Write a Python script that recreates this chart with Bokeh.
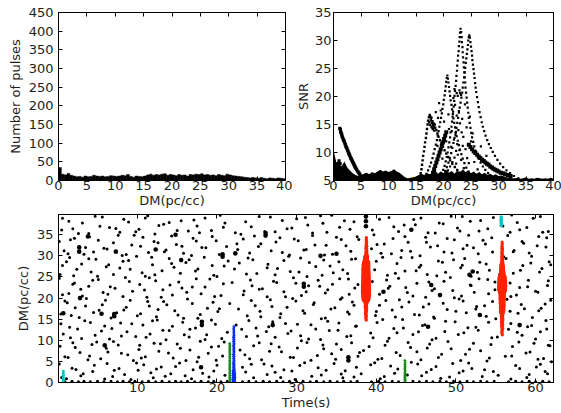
from bokeh.plotting import figure
from bokeh.layouts import column, row
from bokeh.models import FixedTicker, LinearAxis, Range1d
from bokeh.embed import file_html
from bokeh.resources import INLINE
import numpy as np

# ---------------- data ----------------
# top-left histogram: number of pulses per 0.5 pc/cc DM bin (0..40)
hist_counts = [35, 17, 15, 19, 14, 12, 10, 11, 9, 12, 10, 11, 14, 12, 11, 12, 10, 11, 13, 12,
               11, 12, 14, 13, 16, 11, 9, 12, 11, 10, 12, 15, 17, 14, 16, 15, 17, 18, 14, 16,
               15, 13, 16, 14, 15, 12, 16, 15, 17, 16, 18, 15, 16, 14, 15, 13, 16, 14, 13, 17,
               15, 13, 12, 11, 10, 9, 8, 7, 8, 7, 6, 8, 6, 5, 7, 6, 5, 7, 6, 5]
hist_bin_width = 0.5

# top-right: dense noise floor (upper envelope of SNR) sampled every 0.5 pc/cc
floor_snr = [10.4, 8.3, 7.8, 7.6, 8.4, 7.3, 6.8, 6.3, 6.0, 5.8, 5.9, 6.2, 6.4, 6.1, 6.5, 6.3, 6.6,
             6.9, 6.6, 6.8, 6.5, 6.7, 7.0, 6.6, 6.4, 6.0, 5.6, 5.4, 5.5, 5.6, 5.7, 6.0, 6.2, 6.0,
             6.3, 6.1, 6.4, 6.8, 6.2, 6.6, 6.3, 6.9, 6.4, 6.7, 6.2, 6.8, 6.4, 7.0, 6.5, 6.8, 6.3,
             6.6, 6.2, 6.5, 6.1, 6.4, 6.0, 6.2, 5.9, 6.1, 5.8, 5.9, 5.7, 5.6, 5.5, 5.4, 5.4, 5.5,
             5.3, 5.4, 5.6, 5.3, 5.4, 5.3, 5.5, 5.4, 5.3, 5.4, 5.3, 5.5, 5.3]
floor_step = 0.5

# top-right: single-pulse (DM, SNR) tracks
snr_left = [(1.15, 14.3), (1.25, 14.1), (1.3, 13.7), (1.4, 13.5), (1.5, 13.2), (1.55, 12.9), (1.65, 12.7),
            (1.75, 12.4), (1.85, 12.2), (1.95, 12.0), (2.05, 11.7), (2.15, 11.4), (2.25, 11.1), (2.35, 10.9),
            (2.45, 10.7), (2.55, 10.4), (2.65, 10.2), (2.75, 9.9), (2.85, 9.7), (2.95, 9.5), (3.05, 9.2),
            (3.15, 9.0), (3.25, 8.8), (3.35, 8.6), (3.45, 8.4), (3.55, 8.2), (3.65, 8.0), (3.75, 7.8),
            (3.85, 7.6), (3.95, 7.4), (4.05, 7.2), (4.2, 7.0), (4.35, 6.7), (4.5, 6.5), (4.65, 6.3),
            (4.8, 6.1), (5.0, 5.8), (0.6, 7.5), (0.8, 8.0), (1.0, 8.5), (1.2, 8.0)]
snr_curve_a = [(23.1, 32.1), (23.0, 31.4), (22.95, 30.6), (22.9, 29.8), (22.8, 29.0), (22.75, 28.1), (22.65, 27.3),
               (22.6, 26.4), (22.5, 25.5), (22.45, 24.6), (22.35, 23.7), (22.3, 22.8), (22.2, 21.9), (22.1, 21.0),
               (22.0, 20.1), (21.95, 19.2), (21.85, 18.2), (21.75, 17.3), (21.65, 16.4), (21.55, 15.5), (21.45, 14.6),
               (21.3, 13.6), (21.2, 12.7), (21.05, 11.8), (20.9, 10.9), (20.75, 10.0), (20.6, 9.2), (20.4, 8.4),
               (20.2, 7.6), (19.95, 6.9), (19.7, 6.2), (19.4, 5.6),
               (23.2, 31.5), (23.3, 30.6), (23.35, 29.7), (23.45, 28.8), (23.5, 27.9), (23.55, 27.0), (23.65, 26.1),
               (23.7, 25.2), (23.8, 24.3), (23.85, 23.4), (23.95, 22.5), (24.0, 21.6), (24.1, 20.7), (24.2, 19.8),
               (24.3, 18.9), (24.4, 18.0), (24.5, 17.1), (24.6, 16.2), (24.75, 15.3), (24.9, 14.4), (25.05, 13.5),
               (25.2, 12.7), (25.4, 11.9), (25.6, 11.1), (25.85, 10.3), (26.1, 9.6), (26.4, 8.9), (26.75, 8.2),
               (27.15, 7.5), (27.6, 6.9), (28.1, 6.3), (28.7, 5.8)]
snr_curve_b = [(24.7, 30.9), (24.6, 30.6), (24.5, 30.0), (24.45, 29.2), (24.35, 28.4), (24.25, 27.6), (24.15, 26.8),
               (24.05, 26.0), (23.95, 25.1), (23.85, 24.3), (23.75, 23.4), (23.6, 22.5), (23.5, 21.6), (23.4, 20.7),
               (23.25, 19.8), (23.1, 18.9), (22.95, 18.0), (22.8, 17.1), (22.65, 16.2), (22.5, 15.3), (22.35, 14.4),
               (22.2, 13.5), (22.0, 12.6), (21.8, 11.7), (21.6, 10.8), (21.4, 9.9), (21.15, 9.0), (20.9, 8.2),
               (20.6, 7.4), (20.3, 6.7), (19.9, 6.0), (19.5, 5.4),
               (24.8, 30.5), (24.9, 29.7), (25.0, 28.9), (25.1, 28.1), (25.2, 27.3), (25.25, 26.5), (25.35, 25.7),
               (25.45, 24.9), (25.55, 24.1), (25.65, 23.3), (25.75, 22.4), (25.85, 21.6), (25.95, 20.8), (26.1, 19.9),
               (26.25, 19.0), (26.4, 18.1), (26.55, 17.2), (26.75, 16.3), (26.95, 15.4), (27.15, 14.6), (27.4, 13.8),
               (27.65, 13.0), (27.95, 12.2), (28.25, 11.5), (28.6, 10.8), (28.95, 10.1), (29.35, 9.4), (29.8, 8.7),
               (30.3, 8.0), (30.85, 7.4), (31.45, 6.8), (32.1, 6.3), (32.8, 5.8), (33.6, 5.4)]
snr_curve_c = [(20.7, 23.75), (20.6, 23.3), (20.5, 22.6), (20.4, 21.8), (20.3, 21.0), (20.2, 20.2), (20.05, 19.4),
               (19.95, 18.6), (19.8, 17.8), (19.7, 17.0), (19.55, 16.2), (19.4, 15.4), (19.25, 14.6), (19.1, 13.8),
               (18.95, 13.0), (18.8, 12.2), (18.6, 11.4), (18.4, 10.6), (18.2, 9.8), (18.0, 9.0), (17.75, 8.2),
               (17.5, 7.5), (17.2, 6.8), (16.9, 6.2), (16.5, 5.6),
               (20.8, 23.2), (20.9, 22.5), (21.0, 21.7), (21.1, 20.9), (21.2, 20.1), (21.3, 19.3), (21.45, 18.5),
               (21.55, 17.7), (21.7, 16.9), (21.8, 16.1), (21.95, 15.3), (22.1, 14.5), (22.25, 13.7), (22.4, 12.9),
               (22.6, 12.1), (22.8, 11.3), (23.0, 10.5), (23.25, 9.7), (23.5, 8.9), (23.8, 8.1), (24.15, 7.3),
               (24.55, 6.6), (25.0, 6.0), (25.5, 5.5)]
snr_curve_d = [(15.7, 5.6), (15.85, 6.3), (16.0, 7.0), (16.1, 7.8), (16.2, 8.6), (16.3, 9.4), (16.45, 10.2),
               (16.55, 11.0), (16.65, 11.8), (16.8, 12.6), (16.9, 13.4), (17.0, 14.2), (17.1, 15.0), (17.2, 15.7),
               (17.35, 16.3), (17.5, 16.7), (17.6, 16.4), (17.7, 15.8), (17.8, 16.2), (17.9, 15.3), (18.0, 15.6),
               (18.1, 14.9), (18.2, 15.2), (18.3, 14.6), (18.4, 15.0), (18.5, 14.4), (17.4, 15.4), (17.6, 14.9),
               (17.85, 14.5), (18.05, 14.2), (18.3, 13.9), (18.7, 14.0), (18.9, 13.4), (19.1, 12.8), (19.35, 12.2),
               (19.6, 11.6), (19.9, 11.0), (20.2, 10.4), (20.5, 9.8), (20.85, 9.2), (21.2, 8.6), (21.6, 8.0),
               (22.05, 7.4), (22.5, 6.9), (23.0, 6.4), (23.6, 5.9), (24.3, 5.5)]
snr_thick = [(17.9, 5.8), (18.1, 6.4), (18.3, 7.0), (18.5, 7.6), (18.7, 8.2), (18.9, 8.8), (19.1, 9.4),
             (19.3, 10.0), (19.5, 10.6), (19.7, 11.2), (19.9, 11.8), (20.1, 12.4), (20.3, 13.0), (20.5, 13.6),
             (24.6, 11.4), (24.9, 11.0), (25.2, 10.6), (25.5, 10.2), (25.8, 9.9), (26.1, 9.6), (26.4, 9.3),
             (26.7, 9.0), (27.0, 8.7), (27.3, 8.5), (27.6, 8.2), (27.9, 8.0), (28.2, 7.8), (28.5, 7.5),
             (28.8, 7.3), (29.1, 7.1), (29.4, 6.9), (29.7, 6.8), (30.0, 6.6), (30.4, 6.4), (30.8, 6.3),
             (31.2, 6.1), (31.7, 6.0), (32.2, 5.8)]
snr_scatter = [(21.2, 7.5), (21.6, 8.3), (22.0, 9.1), (22.3, 8.0), (22.6, 9.6), (22.9, 10.4), (23.2, 8.7),
               (23.5, 11.2), (21.9, 12.3), (22.2, 13.1), (22.7, 14.0), (23.0, 15.2), (23.3, 13.6), (21.5, 13.8),
               (22.4, 16.6), (22.8, 17.4), (23.4, 16.0), (22.1, 18.5), (22.6, 20.1), (23.0, 20.6), (21.8, 19.7),
               (24.0, 10.6), (24.3, 9.0), (24.6, 8.1), (23.7, 7.2), (20.8, 6.8), (21.4, 11.0), (20.5, 12.0),
               (20.1, 15.5), (19.5, 17.5), (19.2, 18.8), (20.9, 16.8), (24.2, 14.5), (25.0, 12.0), (25.6, 8.3),
               (26.2, 7.0), (23.9, 18.6), (21.0, 14.2), (19.8, 8.9), (18.9, 11.2), (24.8, 16.4), (22.5, 11.5),
               (23.6, 12.8), (22.0, 21.3), (22.3, 10.3), (25.3, 13.4), (26.8, 11.1), (27.8, 9.4), (19.0, 16.2),
               (18.6, 17.2), (22.4, 20.6), (22.9, 21.1), (23.2, 20.3)]

# bottom: background single pulses (time s, DM pc/cc)
bg_points = [
    (0.5, 1.2), (3.2, 2.1), (5.9, 0.8), (8.4, 1.9), (11.7, 2.3), (13.5, 1.5), (16.8, 0.9), (18.2, 2.2), (21.0, 1.7), (24.6, 1.1), (27.3, 2.4), (29.8, 0.7), (33.1, 1.8), (35.6, 2.0), (37.2, 1.3), (40.5, 0.9), (42.3, 2.2), (45.7, 1.6), (48.1, 1.0), (50.4, 2.3), (53.3, 1.4), (56.9, 0.8), (59.2, 1.9), (61.5, 2.1),
    (1.8, 3.4), (4.6, 4.1), (7.1, 2.9), (9.9, 4.6), (12.4, 3.2), (14.8, 3.8), (17.5, 4.9), (19.6, 2.7), (23.2, 3.6), (25.9, 4.4), (28.4, 3.0), (31.0, 4.7), (32.7, 3.5), (36.1, 2.8), (39.3, 4.2), (41.8, 3.9), (44.4, 4.8), (46.9, 3.1), (49.6, 4.5), (52.0, 3.3), (54.7, 2.6), (57.5, 4.0), (60.1, 3.7), (62.0, 4.9),
    (0.9, 6.1), (3.8, 5.4), (6.3, 7.2), (8.8, 6.6), (10.5, 5.8), (13.9, 7.0), (16.1, 5.2), (18.9, 6.9), (20.7, 6.3), (24.1, 5.6), (26.6, 7.4), (29.2, 6.0), (31.8, 5.3), (34.4, 6.8), (37.9, 7.1), (40.2, 5.5), (43.0, 6.4), (45.1, 7.3), (47.8, 5.9), (51.2, 6.7), (53.9, 5.1), (56.2, 6.2), (58.8, 7.0), (61.0, 5.7),
    (2.2, 8.3), (4.9, 9.6), (7.6, 8.9), (10.2, 7.8), (12.9, 9.2), (15.4, 8.1), (17.9, 9.8), (20.2, 8.6), (22.9, 7.7), (25.3, 9.4), (27.8, 8.4), (30.6, 9.9), (33.4, 8.0), (35.0, 9.1), (38.4, 7.6), (41.1, 8.8), (44.0, 9.5), (46.4, 8.2), (49.0, 9.7), (51.7, 7.9), (54.4, 9.0), (57.1, 8.5), (59.8, 9.3), (61.8, 8.7),
    (0.7, 11.5), (3.0, 10.4), (5.5, 12.2), (8.0, 11.0), (11.1, 10.7), (13.2, 12.4), (15.9, 11.3), (18.5, 10.2), (21.3, 11.9), (23.7, 10.9), (26.2, 12.1), (28.9, 11.6), (31.5, 10.3), (34.1, 12.3), (36.8, 11.1), (39.6, 10.6), (42.6, 11.8), (45.3, 12.0), (47.5, 10.5), (50.3, 11.4), (52.8, 12.4), (55.2, 10.8), (58.3, 11.2), (60.6, 12.0),
    (1.5, 13.1), (4.1, 14.2), (6.8, 12.8), (9.3, 13.9), (11.9, 14.6), (14.4, 13.3), (16.6, 12.6), (19.3, 14.8), (22.4, 13.6), (24.9, 12.9), (27.0, 14.4), (30.1, 13.8), (32.4, 12.7), (35.3, 14.1), (37.5, 13.4), (40.8, 14.9), (43.4, 12.9), (46.1, 13.7), (48.7, 14.5), (51.5, 13.0), (54.1, 14.3), (56.6, 12.6), (59.5, 13.5), (61.3, 14.7),
    (0.4, 16.2), (2.7, 15.4), (5.2, 17.1), (7.4, 16.5), (10.0, 15.8), (12.6, 17.3), (15.1, 16.0), (17.6, 15.2), (20.1, 16.8), (22.7, 17.4), (25.5, 15.6), (28.0, 16.3), (30.8, 17.0), (33.6, 15.3), (36.4, 16.7), (39.9, 15.9), (42.0, 17.2), (44.8, 16.1), (47.2, 15.5), (50.0, 16.9), (52.5, 17.4), (55.0, 15.1), (57.8, 16.4), (60.4, 17.0),
    (1.2, 18.9), (3.5, 18.1), (6.0, 19.5), (8.6, 17.8), (11.3, 19.2), (13.7, 18.4), (16.3, 19.8), (18.8, 17.6), (21.6, 18.7), (24.3, 19.4), (26.9, 18.0), (29.5, 19.9), (32.1, 18.5), (34.8, 17.7), (37.0, 19.1), (40.4, 18.3), (42.9, 19.6), (45.9, 17.9), (48.4, 18.8), (50.9, 19.3), (53.6, 18.2), (56.4, 19.7), (58.6, 17.5), (61.2, 18.6),
    (0.6, 20.8), (2.9, 22.1), (5.7, 21.3), (8.2, 20.4), (10.9, 21.9), (13.0, 20.2), (15.6, 22.4), (18.0, 21.0), (20.5, 20.6), (23.4, 21.7), (25.7, 22.2), (28.6, 20.3), (31.2, 21.5), (33.9, 22.0), (36.6, 20.9), (39.0, 21.2), (41.5, 22.3), (44.6, 20.5), (47.0, 21.8), (49.8, 20.1), (52.3, 21.4), (54.9, 22.0), (57.6, 20.7), (60.0, 21.6),
    (1.9, 23.3), (4.4, 24.2), (6.6, 22.7), (9.0, 23.9), (11.5, 24.8), (14.1, 23.1), (16.9, 22.6), (19.1, 24.5), (21.9, 23.7), (24.4, 22.9), (27.1, 24.0), (29.9, 23.5), (32.9, 22.8), (35.4, 24.6), (37.7, 23.2), (41.3, 24.3), (43.7, 22.5), (46.6, 23.8), (49.3, 24.9), (51.9, 23.0), (54.0, 24.4), (56.8, 23.6), (59.0, 22.7), (61.6, 24.1),
    (0.3, 25.6), (2.4, 26.8), (5.0, 25.2), (7.8, 27.1), (10.6, 26.0), (12.2, 25.5), (14.6, 27.3), (17.3, 26.4), (20.0, 25.1), (22.2, 26.9), (25.0, 25.8), (27.6, 27.0), (30.3, 26.2), (33.2, 25.4), (35.8, 26.7), (38.9, 27.4), (42.4, 25.9), (45.0, 26.5), (47.6, 25.3), (50.6, 27.2), (52.7, 26.1), (55.5, 25.7), (58.1, 26.6), (60.8, 27.0),
    (1.1, 28.6), (3.9, 29.3), (6.4, 27.9), (8.9, 28.9), (11.8, 29.7), (14.3, 28.2), (16.5, 29.1), (19.4, 27.7), (21.4, 28.8), (23.9, 29.5), (26.4, 28.0), (29.0, 29.9), (31.6, 28.4), (34.2, 27.6), (36.9, 29.2), (40.0, 28.7), (43.1, 29.6), (45.6, 27.8), (48.3, 28.5), (51.1, 29.4), (53.8, 28.1), (56.0, 29.8), (59.4, 28.3), (61.9, 27.9),
    (0.8, 31.2), (3.3, 30.4), (5.8, 31.8), (8.1, 30.1), (10.4, 32.3), (13.4, 31.0), (15.8, 30.6), (18.1, 32.0), (20.3, 30.3), (22.6, 31.5), (25.2, 32.2), (28.2, 30.8), (30.9, 31.4), (33.5, 30.2), (36.2, 32.4), (39.4, 31.7), (41.9, 30.5), (44.3, 31.1), (46.8, 32.1), (49.5, 30.7), (52.2, 31.9), (54.6, 30.9), (57.3, 31.3), (60.2, 32.4),
    (1.6, 33.8), (4.0, 34.5), (7.0, 33.1), (9.6, 34.9), (12.1, 33.4), (14.9, 32.7), (17.0, 34.2), (19.9, 33.6), (22.5, 32.9), (24.7, 34.7), (27.4, 33.3), (29.7, 34.0), (32.3, 32.6), (35.0, 34.4), (37.8, 33.9), (41.0, 32.8), (43.6, 34.6), (46.3, 33.2), (48.9, 34.1), (51.4, 32.5), (53.4, 33.7), (56.5, 34.8), (58.5, 33.0), (61.4, 34.3),
    (0.5, 36.1), (2.6, 35.3), (5.3, 37.0), (7.3, 36.5), (9.8, 35.7), (12.7, 37.2), (15.0, 36.0), (17.8, 35.5), (20.8, 36.8), (23.0, 35.1), (26.0, 35.8), (28.8, 36.4), (31.4, 37.3), (33.8, 35.6), (36.7, 36.3), (39.7, 35.0), (42.2, 36.9), (44.9, 37.4), (47.4, 35.4), (50.2, 36.6), (52.9, 35.9), (55.9, 37.1), (58.0, 36.2), (60.9, 35.6),
    (1.4, 38.2), (4.7, 39.4), (8.3, 38.7), (11.0, 39.0), (14.0, 37.9), (17.1, 38.5), (20.4, 39.6), (23.6, 38.1), (26.7, 39.2), (30.0, 38.8), (33.0, 39.5), (36.0, 38.3), (41.6, 39.1), (44.7, 38.6), (47.9, 37.8), (50.8, 39.3), (53.1, 38.4), (57.0, 39.7), (59.7, 38.9),
]
bg_points_more = [
    (0.2, 4.4), (1.1, 0.9), (2.3, 3.1), (2.9, 1.6), (4.4, 2.6), (6.2, 4.5), (6.9, 1.4), (7.7, 3.3), (9.2, 0.7), (10.1, 2.9), (10.8, 4.2), (12.0, 1.1), (13.0, 3.7), (14.2, 2.1), (15.3, 4.6), (16.0, 1.6), (17.0, 3.0), (19.0, 1.3), (20.0, 4.1), (23.6, 2.5), (24.3, 4.3), (26.3, 1.9), (26.9, 3.9), (28.0, 1.2), (29.4, 2.7), (30.4, 4.0), (31.9, 1.5), (33.7, 2.9), (34.7, 4.5), (35.8, 1.1), (37.5, 3.6), (38.1, 2.1), (39.8, 4.7), (41.0, 1.4), (42.7, 3.2), (43.9, 1.8), (45.2, 4.4), (46.3, 2.4), (47.5, 3.8), (49.2, 1.3), (50.9, 2.7), (51.6, 4.6), (53.6, 3.0), (55.3, 1.7), (58.0, 3.3), (58.9, 1.2), (60.6, 4.3), (61.2, 2.6),
    (0.3, 8.6), (1.3, 5.9), (1.9, 9.4), (2.8, 7.1), (4.0, 6.3), (4.3, 9.0), (5.4, 5.6), (6.1, 8.1), (7.0, 9.7), (8.0, 6.9), (9.5, 5.2), (10.3, 8.8), (11.0, 6.1), (12.1, 9.3), (12.7, 7.4), (14.5, 5.8), (15.0, 9.1), (16.6, 7.7), (17.7, 6.0), (19.3, 8.4), (19.9, 5.3), (20.9, 9.6), (23.5, 6.6), (24.6, 8.7), (25.6, 5.4), (26.8, 9.2), (28.1, 7.3), (29.6, 5.9), (30.1, 8.2), (31.3, 9.5), (32.6, 6.4), (33.3, 8.9), (34.9, 5.5), (35.6, 7.8), (36.9, 9.4), (37.7, 6.2), (39.1, 8.5), (40.7, 5.7), (41.4, 9.8), (42.5, 7.1), (44.3, 8.3), (45.6, 5.4), (46.7, 9.1), (48.2, 6.7), (49.4, 8.0), (50.6, 5.2), (52.2, 9.3), (53.1, 7.5), (54.2, 5.8), (57.0, 6.3), (57.9, 9.6), (59.3, 7.2), (60.3, 5.5), (61.6, 8.8),
    (0.4, 13.9), (1.6, 10.6), (2.5, 12.7), (3.4, 14.6), (4.7, 11.2), (5.9, 13.4), (6.5, 10.3), (7.9, 14.1), (8.7, 12.0), (9.8, 10.9), (10.7, 13.6), (11.6, 11.5), (12.5, 14.8), (13.6, 10.1), (14.0, 12.3), (15.7, 14.3), (16.5, 10.8), (17.3, 12.9), (18.7, 11.3), (19.8, 13.8), (20.6, 10.4), (23.1, 12.6), (24.0, 14.7), (25.1, 11.0), (26.5, 13.2), (27.3, 10.7), (28.6, 14.0), (29.3, 12.2), (30.5, 11.1), (31.8, 13.7), (33.0, 10.2), (33.9, 14.5), (35.2, 12.4), (36.3, 10.9), (37.4, 13.3), (39.3, 11.7), (40.1, 14.2), (41.6, 10.5), (42.2, 12.8), (43.3, 14.9), (44.6, 11.4), (45.8, 13.5), (47.0, 10.1), (48.6, 12.1), (49.9, 14.4), (51.0, 11.8), (52.5, 13.1), (54.5, 10.6), (56.9, 14.0), (57.7, 11.9), (59.0, 13.2), (60.0, 10.3), (61.4, 12.7),
    (0.9, 19.3), (1.7, 15.9), (2.2, 17.7), (3.6, 19.9), (4.5, 16.6), (5.6, 18.4), (6.7, 15.3), (8.3, 17.2), (9.1, 19.5), (10.4, 16.3), (11.5, 18.1), (12.4, 15.6), (13.3, 19.2), (14.7, 17.0), (15.8, 15.2), (16.9, 18.7), (17.9, 16.1), (19.5, 19.0), (20.3, 17.5), (23.8, 15.8), (24.8, 18.2), (25.4, 16.9), (26.7, 19.6), (27.9, 15.4), (28.8, 17.8), (29.9, 19.3), (31.0, 16.4), (32.2, 18.9), (33.1, 15.1), (34.3, 17.4), (35.5, 19.7), (36.6, 16.2), (37.2, 18.3), (40.0, 16.8), (41.2, 19.4), (42.4, 15.5), (43.2, 17.9), (44.1, 19.1), (45.4, 16.0), (46.6, 18.6), (47.3, 15.2), (48.9, 17.3), (50.4, 19.8), (51.3, 16.5), (52.6, 18.0), (53.8, 15.7), (54.6, 19.2), (56.8, 16.9), (58.2, 18.5), (59.6, 15.4), (60.7, 17.6), (61.9, 19.5),
    (0.2, 24.7), (1.4, 21.1), (2.1, 23.6), (3.1, 20.5), (3.9, 22.8), (5.1, 24.4), (6.3, 20.9), (7.2, 22.3), (8.5, 24.9), (9.4, 21.6), (10.3, 23.2), (11.2, 20.2), (12.3, 24.1), (13.2, 22.0), (14.4, 20.7), (15.2, 23.8), (16.2, 21.4), (17.4, 24.6), (18.5, 22.6), (19.7, 20.4), (20.8, 23.4), (23.3, 20.8), (24.2, 24.3), (25.3, 22.1), (26.3, 20.3), (27.5, 23.7), (28.4, 21.5), (29.6, 24.8), (30.6, 20.6), (31.5, 22.9), (32.7, 24.2), (33.6, 21.2), (34.5, 23.3), (35.7, 20.1), (36.5, 24.5), (37.3, 22.4), (39.5, 23.9), (40.4, 20.9), (41.7, 22.8), (42.8, 24.7), (43.9, 21.3), (45.1, 23.5), (46.2, 20.2), (47.3, 22.2), (48.5, 24.0), (49.6, 21.8), (50.7, 20.5), (51.8, 23.1), (52.9, 24.6), (54.1, 21.0), (54.9, 23.8), (56.9, 20.4), (58.0, 22.5), (59.1, 24.2), (60.3, 21.4), (61.5, 23.0),
    (0.6, 27.7), (1.5, 29.6), (2.0, 25.3), (3.0, 28.1), (4.2, 26.2), (4.8, 29.2), (6.1, 27.4), (7.0, 25.6), (8.2, 28.7), (9.1, 26.8), (9.9, 29.9), (11.0, 25.2), (11.9, 27.9), (13.1, 26.5), (14.0, 29.4), (15.4, 25.9), (16.1, 28.4), (17.6, 26.9), (18.4, 29.7), (19.6, 25.4), (20.9, 27.6), (22.8, 28.3), (23.7, 25.7), (24.5, 29.1), (26.3, 27.2), (27.3, 25.5), (28.4, 28.9), (29.2, 26.3), (30.5, 29.5), (31.3, 25.1), (32.4, 27.5), (33.4, 29.0), (34.6, 26.0), (35.3, 28.6), (36.4, 25.8), (37.4, 29.3), (39.8, 26.7), (40.8, 29.7), (41.4, 25.4), (42.6, 28.2), (43.6, 26.4), (44.5, 29.6), (45.4, 27.3), (46.4, 25.6), (47.8, 28.8), (48.7, 26.1), (49.7, 29.1), (50.8, 27.8), (51.9, 25.2), (53.0, 28.5), (54.2, 26.6), (56.3, 29.4), (57.2, 25.9), (58.4, 27.7), (59.5, 29.9), (60.5, 26.2), (61.7, 28.6),
    (0.2, 33.4), (1.3, 30.5), (2.1, 34.2), (3.5, 32.0), (4.5, 30.9), (5.1, 33.7), (6.2, 31.6), (7.6, 34.9), (8.6, 30.3), (9.3, 32.6), (10.7, 34.4), (11.4, 30.8), (12.6, 33.1), (13.6, 31.4), (14.3, 34.7), (15.6, 32.3), (16.8, 30.1), (17.4, 33.5), (18.6, 31.9), (19.4, 34.6), (21.2, 32.2), (23.3, 34.0), (24.1, 30.7), (25.5, 32.9), (26.8, 31.2), (27.9, 34.3), (29.1, 30.2), (30.2, 33.6), (31.2, 31.5), (32.0, 34.8), (33.7, 32.5), (34.5, 30.4), (35.6, 33.9), (36.8, 31.1), (37.6, 34.5), (40.1, 32.7), (40.6, 30.6), (42.1, 34.1), (43.2, 31.3), (44.0, 33.2), (45.5, 30.0), (46.2, 34.4), (47.7, 32.4), (48.5, 30.9), (49.8, 33.8), (50.9, 31.7), (51.6, 34.9), (52.8, 30.5), (53.7, 32.8), (54.5, 34.3), (57.2, 31.0), (58.3, 33.4), (59.2, 30.7), (60.4, 34.6), (61.3, 32.1),
    (0.6, 38.9), (1.9, 36.4), (3.1, 37.8), (3.9, 35.3), (5.6, 39.2), (6.5, 36.7), (7.8, 35.6), (8.9, 38.0), (10.2, 36.3), (11.3, 39.5), (12.2, 35.2), (13.3, 37.5), (15.5, 38.3), (16.4, 35.9), (17.5, 37.1), (18.5, 39.0), (19.3, 36.0), (21.0, 37.8), (22.3, 35.5), (24.3, 36.9), (25.3, 39.3), (27.3, 35.7), (28.2, 38.4), (29.4, 36.6), (31.1, 39.1), (32.0, 35.4), (33.3, 37.7), (34.4, 39.6), (35.4, 36.8), (37.2, 38.1), (39.5, 36.1), (40.4, 38.7), (42.8, 35.8), (43.5, 37.3), (45.6, 39.0), (46.5, 35.5), (48.4, 37.6), (49.4, 39.4), (50.5, 35.9), (51.8, 38.2), (54.0, 36.4), (54.7, 39.1), (56.8, 35.6), (57.7, 37.9), (58.9, 36.7), (60.6, 39.3), (61.6, 35.8),
]
# brighter background pulses (time, DM)
bg_bright = [(2.7, 31.0), (2.7, 32.0), (14.8, 35.0), (15.5, 29.0), (0.7, 16.4), (5.5, 16.3), (7.1, 15.7),
             (7.1, 16.2), (5.9, 8.8), (7.3, 31.0), (3.8, 34.6), (2.8, 20.0), (18.1, 14.4), (18.1, 13.6),
             (18.0, 3.6), (20.7, 29.8), (20.7, 30.4), (22.3, 30.6), (26.1, 35.4), (26.1, 34.8), (27.0, 13.6),
             (30.9, 22.7), (30.9, 23.4), (38.7, 38.2), (38.7, 37.0), (38.7, 39.3), (36.5, 6.0), (36.5, 5.2),
             (46.5, 13.2), (48.0, 20.7), (46.9, 23.1), (52.1, 26.3), (51.7, 25.5), (53.0, 16.0), (58.0, 13.6),
             (44.4, 36.2), (40.9, 21.5), (12.3, 31.5), (33.0, 30.0), (35.0, 30.5)]
# pulses at DM ~ 0 (time, DM)
bg_zero = [(0.9, 0.2), (1.8, 0.3), (2.6, 0.2), (3.3, 0.3), (4.1, 0.2), (5.0, 0.3), (5.8, 0.2), (6.7, 0.3),
           (7.5, 0.2), (8.2, 0.3), (9.0, 0.2), (9.7, 0.3), (10.6, 0.2), (11.4, 0.3), (12.3, 0.2), (13.1, 0.3),
           (14.0, 0.2), (14.8, 0.3), (15.5, 0.2), (16.3, 0.3), (17.2, 0.2), (18.0, 0.3), (18.9, 0.2), (19.6, 0.3),
           (20.5, 0.2), (21.3, 0.3), (23.2, 0.2), (24.0, 0.3), (24.9, 0.2), (25.8, 0.3), (26.6, 0.2), (27.5, 0.3),
           (28.3, 0.2), (29.1, 0.3), (30.0, 0.2), (30.8, 0.3), (31.7, 0.2), (32.5, 0.3), (33.4, 0.2), (34.2, 0.3),
           (35.1, 0.2), (35.9, 0.3), (36.8, 0.2), (37.6, 0.3), (39.4, 0.2), (40.3, 0.3), (41.1, 0.2), (42.0, 0.3),
           (42.8, 0.2), (44.6, 0.3), (45.4, 0.2), (46.3, 0.3), (47.1, 0.2), (48.0, 0.3), (48.8, 0.2), (49.7, 0.3),
           (50.5, 0.2), (51.4, 0.3), (52.2, 0.2), (53.1, 0.3), (53.9, 0.2), (54.8, 0.3), (56.6, 0.2), (57.5, 0.3),
           (58.3, 0.2), (59.2, 0.3), (60.0, 0.2), (60.9, 0.3), (61.7, 0.2)]

# bottom: grouped pulses (time s, DM pc/cc, SNR)
red1 = [(38.74, 14.8, 7), (38.70, 15.3, 8), (38.72, 15.8, 9), (38.68, 16.3, 9), (38.71, 16.8, 10),
        (38.73, 17.3, 10), (38.69, 17.8, 11), (38.70, 18.3, 11), (38.72, 18.8, 12), (38.68, 19.3, 12),
        (38.71, 19.8, 28), (38.70, 20.3, 30), (38.73, 20.8, 31), (38.69, 21.3, 32), (38.70, 21.8, 32),
        (38.72, 22.3, 32), (38.68, 22.8, 31), (38.71, 23.3, 31), (38.70, 23.8, 30), (38.73, 24.3, 30),
        (38.69, 24.8, 30), (38.71, 25.3, 29), (38.70, 25.8, 29), (38.72, 26.3, 28), (38.68, 26.8, 28),
        (38.71, 27.3, 27), (38.70, 27.8, 27), (38.73, 28.3, 26), (38.69, 28.8, 18), (38.72, 29.3, 17),
        (38.74, 29.8, 16), (38.76, 30.3, 10), (38.75, 30.8, 10), (38.77, 31.3, 9), (38.74, 31.8, 9),
        (38.76, 32.3, 9), (38.75, 32.8, 8), (38.77, 33.3, 8), (38.74, 33.8, 7), (38.76, 34.3, 7)]
red2 = [(55.82, 11.3, 7), (55.78, 11.8, 8), (55.80, 12.3, 8), (55.83, 12.8, 9), (55.79, 13.3, 9),
        (55.81, 13.8, 10), (55.78, 14.3, 10), (55.82, 14.8, 11), (55.80, 15.3, 11), (55.79, 15.8, 12),
        (55.81, 16.3, 12), (55.78, 16.8, 18), (55.82, 17.3, 18), (55.80, 17.8, 19), (55.83, 18.3, 19),
        (55.79, 18.8, 20), (55.81, 19.3, 20), (55.78, 19.8, 21), (55.82, 20.3, 21), (55.80, 20.8, 22),
        (55.79, 21.3, 22), (55.81, 21.8, 30), (55.78, 22.3, 31), (55.82, 22.8, 32), (55.80, 23.3, 32),
        (55.83, 23.8, 31), (55.79, 24.3, 30), (55.81, 24.8, 29), (55.78, 25.3, 20), (55.82, 25.8, 19),
        (55.80, 26.3, 18), (55.79, 26.8, 17), (55.81, 27.3, 16), (55.78, 27.8, 15), (55.82, 28.3, 11),
        (55.80, 28.8, 10), (55.83, 29.3, 10), (55.79, 29.8, 9), (55.81, 30.3, 9), (55.78, 30.8, 8),
        (55.82, 31.3, 8), (55.80, 31.8, 8), (55.79, 32.3, 7), (55.81, 32.8, 7), (55.80, 33.3, 6)]
blue = [(22.12, 0.2, 12), (22.10, 0.7, 12), (22.13, 1.2, 12), (22.11, 1.7, 11), (22.12, 2.2, 11),
        (22.10, 2.7, 10), (22.13, 3.2, 7), (22.11, 3.7, 7), (22.12, 4.2, 7), (22.10, 4.7, 7),
        (22.13, 5.2, 6), (22.11, 5.7, 6), (22.12, 6.2, 6), (22.10, 6.7, 6), (22.13, 7.2, 6),
        (22.11, 7.7, 6), (22.12, 8.2, 6), (22.10, 8.7, 6), (22.13, 9.2, 6), (22.11, 9.7, 6),
        (22.12, 10.2, 6), (22.10, 10.7, 6), (22.13, 11.2, 6), (22.11, 11.7, 5), (22.12, 12.2, 5),
        (22.10, 12.7, 5), (22.13, 13.2, 5)]
green = [(21.60, 0.2, 5), (21.62, 0.7, 5), (21.59, 1.2, 5), (21.61, 1.7, 5), (21.60, 2.2, 5), (21.62, 2.7, 5),
         (21.59, 3.2, 5), (21.61, 3.7, 5), (21.60, 4.2, 5), (21.62, 4.7, 5), (21.59, 5.2, 5), (21.61, 5.7, 5),
         (21.60, 6.2, 5), (21.62, 6.7, 5), (21.59, 7.2, 5), (21.61, 7.7, 5), (21.60, 8.2, 5), (21.62, 8.7, 5),
         (21.59, 9.2, 5),
         (43.60, 0.2, 6), (43.62, 0.7, 6), (43.59, 1.2, 6), (43.61, 1.7, 5), (43.60, 2.2, 5), (43.62, 2.7, 5),
         (43.59, 3.2, 5), (43.61, 3.7, 5), (43.60, 4.2, 5), (43.62, 4.7, 5), (43.59, 5.2, 5)]
cyan = [(0.70, 0.2, 6), (0.72, 0.7, 6), (0.69, 1.2, 6), (0.71, 1.7, 6), (0.70, 2.2, 5), (0.72, 2.7, 5),
        (55.68, 37.2, 8), (55.70, 37.7, 8), (55.67, 38.2, 8), (55.69, 38.7, 8), (55.68, 39.2, 7)]

# axis ticks
hist_xticks = [0, 5, 10, 15, 20, 25, 30, 35, 40]
hist_yticks = [0, 50, 100, 150, 200, 250, 300, 350, 400, 450]
snr_yticks = [5, 10, 15, 20, 25, 30, 35]
time_xticks = [10, 20, 30, 40, 50, 60]
dm_yticks = [0, 5, 10, 15, 20, 25, 30, 35]

# ---------------- styling helpers ----------------
FONT = "DejaVu Sans"
TXT = "#1e1e1e"
FS = "13px"


def make_fig(fw, fh, xr, yr, xt, yt, xlabel, ylabel, bl, br, bt, bb, ystand=(5, 3)):
    p = figure(frame_width=fw, frame_height=fh, x_range=Range1d(*xr), y_range=Range1d(*yr),
               output_backend="svg", toolbar_location=None,
               min_border_left=bl, min_border_right=br, min_border_top=bt, min_border_bottom=bb)
    p.xgrid.visible = False
    p.ygrid.visible = False
    p.outline_line_color = "black"
    p.outline_line_alpha = 1.0
    p.outline_line_width = 1
    p.background_fill_color = "white"
    p.border_fill_color = "white"
    p.xaxis.ticker = FixedTicker(ticks=xt)
    p.yaxis.ticker = FixedTicker(ticks=yt)
    p.xaxis.axis_label = xlabel
    p.yaxis.axis_label = ylabel
    for ax in (p.xaxis[0], p.yaxis[0]):
        ax.major_tick_in = 4
        ax.major_tick_out = 0
        ax.minor_tick_line_color = None
        ax.axis_line_color = "black"
        ax.major_tick_line_color = "black"
        ax.major_label_text_font = FONT
        ax.major_label_text_font_size = FS
        ax.major_label_text_color = TXT
        ax.axis_label_text_font = FONT
        ax.axis_label_text_font_size = FS
        ax.axis_label_text_font_style = "normal"
        ax.axis_label_text_color = TXT
    p.xaxis[0].major_label_standoff = 0
    p.xaxis[0].axis_label_standoff = 0
    p.yaxis[0].major_label_standoff = ystand[0]
    p.yaxis[0].axis_label_standoff = ystand[1]
    for loc, tk in (("above", xt), ("right", yt)):
        ax = LinearAxis(ticker=FixedTicker(ticks=tk), major_label_text_font_size="0px",
                        major_label_text_color=None, major_label_standoff=0,
                        major_tick_in=4, major_tick_out=0,
                        minor_tick_line_color=None, axis_line_color="black")
        p.add_layout(ax, loc)
    return p


# ---------------- top-left: histogram ----------------
p1 = make_fig(227, 168, (0, 40), (0, 450), hist_xticks, hist_yticks, "DM(pc/cc)", "Number of pulses",
              58, 7, 12, 32)
lefts = np.arange(len(hist_counts)) * hist_bin_width
p1.quad(left=lefts, right=lefts + hist_bin_width, bottom=0, top=hist_counts,
        fill_color="black", line_color="black", line_width=0.5)

# ---------------- top-right: SNR vs DM ----------------
p2 = make_fig(220, 168, (0, 40), (5, 35), hist_xticks, snr_yticks, "DM(pc/cc)", "SNR",
              37, 9, 12, 32, ystand=(2, 1))
floor_dm = np.arange(len(floor_snr)) * floor_step
p2.varea(x=floor_dm, y1=5, y2=floor_snr, fill_color="black")
for pts, sz in ((snr_left, 3.2), (snr_curve_a, 2.2), (snr_curve_b, 2.2), (snr_curve_c, 2.2),
                (snr_curve_d, 2.4), (snr_thick, 4.0), (snr_scatter, 2.2)):
    p2.scatter([q[0] for q in pts], [q[1] for q in pts], marker="square", size=sz,
               fill_color="black", line_color=None)

# ---------------- bottom: DM vs time ----------------
p3 = make_fig(495, 168, (0.1, 62.25), (0, 39.8), time_xticks, dm_yticks, "Time(s)", "DM(pc/cc)",
              58, 8, 2, 31)
for pts in (bg_points, bg_points_more, bg_zero):
    p3.scatter([q[0] for q in pts], [q[1] for q in pts], size=3.0,
               fill_color="black", line_color=None)
p3.scatter([q[0] for q in bg_bright], [q[1] for q in bg_bright], size=4.6,
           fill_color="black", line_color=None)


def snr_size(s):
    return 1.5 + 0.27 * s


for pts, col in ((green, "#158c15"), (blue, "#0a2cff"), (red1, "#ff2200"), (red2, "#ff2200"), (cyan, "#00c3c3")):
    p3.scatter([q[0] for q in pts], [q[1] for q in pts], size=[snr_size(q[2]) for q in pts],
               fill_color=col, line_color=None)

layout = column(row(p1, p2), p3)
open("out.html", "w").write(file_html(layout, INLINE))
